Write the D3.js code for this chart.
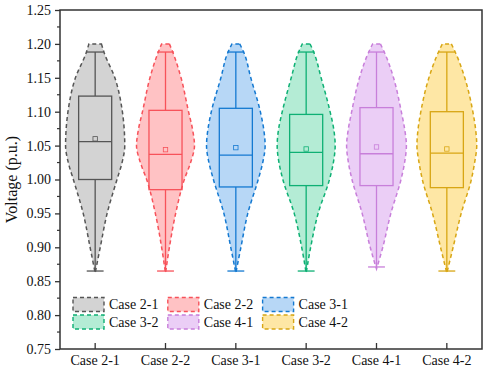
<!DOCTYPE html>
<html>
<head>
<meta charset="utf-8">
<script src="https://cdn.jsdelivr.net/npm/d3@7"></script>
<style>
  body { margin: 0; background: #fff; }
  text { font-family: "Liberation Serif", "Times New Roman", serif; }
</style>
</head>
<body>
<div id="container"></div>
<script>
/* CONSTANTS AND GLOBALS */
const width = 484,
  height = 372,
  margin = { top: 10, bottom: 23, left: 60, right: 2 };

/* DATA */
const cases = ["Case 2-1", "Case 2-2", "Case 3-1", "Case 3-2", "Case 4-1", "Case 4-2"];
const q1 = [1.000, 0.985, 0.989, 0.991, 0.991, 0.988];
const median = [1.056, 1.037, 1.036, 1.040, 1.038, 1.039];
const q3 = [1.123, 1.102, 1.105, 1.096, 1.106, 1.100];
const mean = [1.060, 1.044, 1.047, 1.045, 1.048, 1.045];
const whiskerLow = [0.865, 0.865, 0.865, 0.865, 0.871, 0.865];
const whiskerHigh = [1.188, 1.188, 1.188, 1.188, 1.188, 1.188];
const violinMin = [0.862, 0.862, 0.862, 0.862, 0.868, 0.862];
const densityLevels = [1.20, 1.187, 1.15, 1.10, 1.075, 1.05, 1.025, 1.00, 0.95, 0.90];
const density = [
  [0.21, 0.30, 0.66, 0.91, 0.97, 0.99, 0.90, 0.73, 0.40, 0.17],
  [0.13, 0.25, 0.52, 0.77, 0.90, 0.97, 0.84, 0.63, 0.34, 0.13],
  [0.13, 0.27, 0.50, 0.82, 0.93, 0.98, 0.90, 0.75, 0.40, 0.17],
  [0.13, 0.26, 0.50, 0.80, 0.92, 0.97, 0.91, 0.78, 0.40, 0.15],
  [0.13, 0.27, 0.57, 0.83, 0.94, 1.00, 0.94, 0.82, 0.48, 0.21],
  [0.15, 0.29, 0.60, 0.87, 0.96, 1.00, 0.93, 0.82, 0.48, 0.21]
];
const yTicks = [0.75, 0.80, 0.85, 0.90, 0.95, 1.00, 1.05, 1.10, 1.15, 1.20, 1.25];

const strokeColors = ["#555555", "#f7525a", "#1479d1", "#0eb074", "#c87fda", "#d8a614"];
const fillColors = ["#d3d3d3", "#ffc2c4", "#b7d7f6", "#b4ecd5", "#ebcef6", "#fee7a5"];

/* SCALES */
const xScale = d3.scaleBand()
  .domain(cases)
  .range([margin.left, width - margin.right])
  .padding(0);

const yScale = d3.scaleLinear()
  .domain([0.75, 1.25])
  .range([height - margin.bottom, margin.top]);

const wScale = d3.scaleLinear()
  .domain([0, 1])
  .range([0, xScale.bandwidth() * 0.425]);

const colorScale = d3.scaleOrdinal().domain(cases).range(strokeColors);
const fillScale = d3.scaleOrdinal().domain(cases).range(fillColors);

const svg = d3.select("#container")
  .append("svg")
  .attr("width", width)
  .attr("height", height);

const rows = cases.map((c, i) => ({
  name: c, q1: q1[i], median: median[i], q3: q3[i], mean: mean[i],
  lo: whiskerLow[i], hi: whiskerHigh[i],
  profile: densityLevels.map((v, j) => ({ v, d: density[i][j] }))
    .concat([{ v: violinMin[i], d: 0 }])
}));

/* VIOLINS */
const area = d3.area()
  .y(d => yScale(d.v))
  .curve(d3.curveMonotoneY);

const g = svg.selectAll(".case")
  .data(rows)
  .join("g")
  .attr("class", "case");

g.append("path")
  .attr("d", d => {
    const cx = xScale(d.name) + xScale.bandwidth() / 2;
    return area.x0(p => cx - wScale(p.d)).x1(p => cx + wScale(p.d))(d.profile);
  })
  .attr("fill", d => fillScale(d.name))
  .attr("stroke", d => colorScale(d.name))
  .attr("stroke-width", 1.5)
  .attr("stroke-dasharray", "4,3");

/* BOXES */
const boxHalf = xScale.bandwidth() * 0.235;
const capHalf = xScale.bandwidth() * 0.12;
const cx = d => xScale(d.name) + xScale.bandwidth() / 2;

g.append("line")
  .attr("x1", cx).attr("x2", cx)
  .attr("y1", d => yScale(d.q3)).attr("y2", d => yScale(d.hi))
  .attr("stroke", d => colorScale(d.name)).attr("stroke-width", 1.3);
g.append("line")
  .attr("x1", cx).attr("x2", cx)
  .attr("y1", d => yScale(d.q1)).attr("y2", d => yScale(d.lo))
  .attr("stroke", d => colorScale(d.name)).attr("stroke-width", 1.3);
g.append("line")
  .attr("x1", d => cx(d) - capHalf).attr("x2", d => cx(d) + capHalf)
  .attr("y1", d => yScale(d.hi)).attr("y2", d => yScale(d.hi))
  .attr("stroke", d => colorScale(d.name)).attr("stroke-width", 1.3);
g.append("line")
  .attr("x1", d => cx(d) - capHalf).attr("x2", d => cx(d) + capHalf)
  .attr("y1", d => yScale(d.lo)).attr("y2", d => yScale(d.lo))
  .attr("stroke", d => colorScale(d.name)).attr("stroke-width", 1.3);
g.append("rect")
  .attr("x", d => cx(d) - boxHalf)
  .attr("width", boxHalf * 2)
  .attr("y", d => yScale(d.q3))
  .attr("height", d => yScale(d.q1) - yScale(d.q3))
  .attr("fill", "none")
  .attr("stroke", d => colorScale(d.name)).attr("stroke-width", 1.3);
g.append("line")
  .attr("x1", d => cx(d) - boxHalf).attr("x2", d => cx(d) + boxHalf)
  .attr("y1", d => yScale(d.median)).attr("y2", d => yScale(d.median))
  .attr("stroke", d => colorScale(d.name)).attr("stroke-width", 1.3);
g.append("rect")
  .attr("x", d => cx(d) - 2.2)
  .attr("y", d => yScale(d.mean) - 2.2)
  .attr("width", 4.4).attr("height", 4.4)
  .attr("fill", "none")
  .attr("stroke", d => colorScale(d.name)).attr("stroke-width", 0.8);

/* AXES */
const yAxis = d3.axisLeft(yScale)
  .tickValues(yTicks)
  .tickFormat(d3.format(".2f"))
  .tickSize(5)
  .tickPadding(4);
const yAx = svg.append("g")
  .attr("transform", `translate(${margin.left},0)`)
  .call(yAxis);
yAx.select(".domain").remove();
yAx.selectAll("text").attr("font-size", "14px").attr("fill", "#111");
yAx.selectAll("line").attr("stroke", "#333").attr("stroke-width", 1.3);

// minor ticks
svg.append("g")
  .selectAll("line")
  .data(yTicks.slice(0, -1).map(t => t + 0.025))
  .join("line")
  .attr("x1", margin.left - 3).attr("x2", margin.left)
  .attr("y1", d => yScale(d)).attr("y2", d => yScale(d))
  .attr("stroke", "#333").attr("stroke-width", 1.2);

const xAxis = d3.axisBottom(xScale).tickSize(-6).tickPadding(6);
const xAx = svg.append("g")
  .attr("transform", `translate(0,${height - margin.bottom})`)
  .call(xAxis);
xAx.select(".domain").remove();
xAx.selectAll("text").attr("font-size", "14px").attr("fill", "#111");
xAx.selectAll("line").attr("stroke", "#333").attr("stroke-width", 1.3);

// frame
svg.append("rect")
  .attr("x", margin.left).attr("y", margin.top)
  .attr("width", width - margin.left - margin.right)
  .attr("height", height - margin.top - margin.bottom)
  .attr("fill", "none")
  .attr("stroke", "#333")
  .attr("stroke-width", 1.5);

svg.append("text")
  .attr("transform", `translate(17,${(margin.top + height - margin.bottom) / 2}) rotate(-90)`)
  .attr("text-anchor", "middle")
  .attr("font-size", "16px")
  .attr("fill", "#111")
  .text("Voltage (p.u.)");

/* LEGEND */
const legend = svg.append("g")
  .selectAll("g")
  .data(cases)
  .join("g")
  .attr("transform", (d, i) => {
    const col = i % 3, row = Math.floor(i / 3);
    return `translate(${73 + col * 94.8},${297.5 + row * 17.5})`;
  });
legend.append("rect")
  .attr("width", 31).attr("height", 14)
  .attr("fill", d => fillScale(d))
  .attr("stroke", d => colorScale(d))
  .attr("stroke-width", 1.4)
  .attr("stroke-dasharray", "4,3");
legend.append("text")
  .attr("x", 36).attr("y", 11.5)
  .attr("font-size", "14px")
  .attr("fill", "#111")
  .text(d => d);
</script>
</body>
</html>
